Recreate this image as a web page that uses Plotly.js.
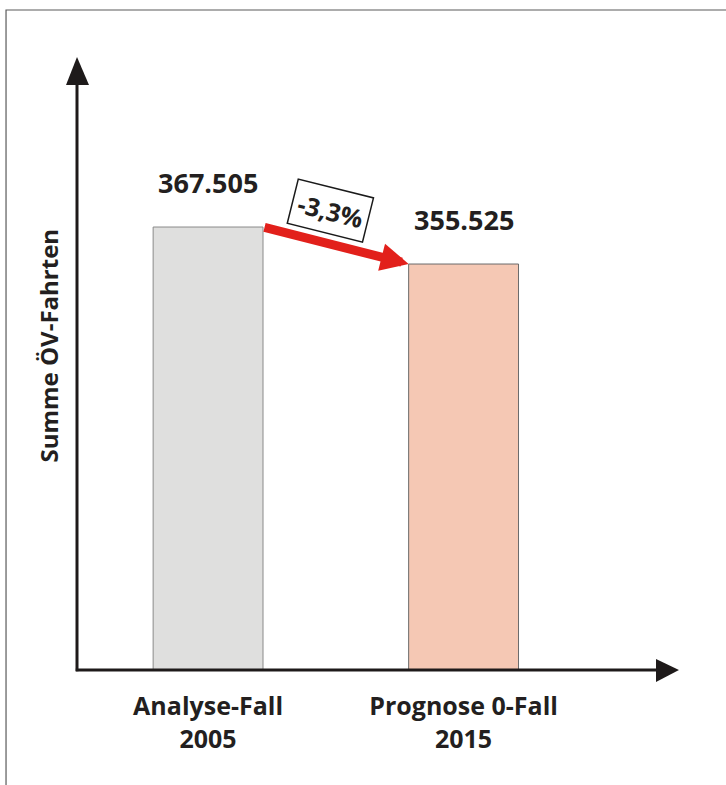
<!DOCTYPE html>
<html>
<head>
<meta charset="utf-8">
<script src="https://cdn.plot.ly/plotly-3.0.1.min.js"></script>
<style>html,body{margin:0;padding:0;background:#fff;}#chart{width:726px;height:785px;}</style>
</head>
<body>
<div id="chart"></div>
<script>
const categories = ["Analyse-Fall<br>2005", "Prognose 0-Fall<br>2015"];
const values = [367505, 355525];
const valueLabels = ["367.505", "355.525"];
const changeLabel = "-3,3%";
const yTitle = "Summe ÖV-Fahrten";

const FONT = "Open Sans, Noto Sans, sans-serif";
const TXT = "#231f20";
const barWidth = 0.43;

const trace = {
  type: "bar",
  x: [0, 1],
  y: values,
  width: barWidth,
  marker: {
    color: ["#dfdfde", "#f5c8b4"],
    line: {color: ["#8a8a8a", "#6a6a6a"], width: 1}
  },
  hoverinfo: "skip"
};

const annotations = values.map((v, i) => ({
  x: i, y: v, xref: "x", yref: "y",
  text: "<b>" + valueLabels[i] + "</b>",
  showarrow: false, yanchor: "bottom", yshift: 24,
  font: {family: FONT, size: 27, color: TXT}
}));

// red arrow from bar 1 top-right to bar 2 top-left
annotations.push({
  x: 1 - barWidth / 2, y: values[1], xref: "x", yref: "y",
  ax: barWidth / 2, ay: values[0], axref: "x", ayref: "y",
  showarrow: true, arrowhead: 2, arrowsize: 0.62, arrowwidth: 9,
  arrowcolor: "#e2201b", standoff: 0, startstandoff: 0, text: ""
});

// change label box
annotations.push({
  x: 0.4775, y: 373000, xref: "x", yref: "y",
  text: "<b>" + changeLabel + "</b>", showarrow: false,
  textangle: 14, bgcolor: "#ffffff", bordercolor: "#1a1a1a",
  borderwidth: 1.5, borderpad: 5,
  font: {family: FONT, size: 25, color: TXT}
});

// y axis title
annotations.push({
  x: -0.078, y: 0.530, xref: "paper", yref: "paper",
  text: "<b>" + yTitle + "</b>", showarrow: false, textangle: -90,
  font: {family: FONT, size: 24, color: TXT}
});

const AX = "#1e1a1a";
const shapes = [
  {type: "rect", xref: "paper", yref: "paper", x0: -0.1177, x1: 1.12, y0: -0.3, y1: 1.0767,
   line: {color: "#5a5a5a", width: 1.2}, fillcolor: "rgba(0,0,0,0)", layer: "below"},
  {type: "line", xref: "paper", yref: "paper", x0: 0, x1: 0, y0: -0.002, y1: 0.955,
   line: {color: AX, width: 3}},
  {type: "line", xref: "paper", yref: "paper", x0: -0.002, x1: 0.962, y0: 0, y1: 0,
   line: {color: AX, width: 3}},
  {type: "path", xref: "paper", yref: "paper",
   path: "M 0 1 L -0.0182 0.9543 L 0.0199 0.9543 Z", fillcolor: AX, line: {color: AX, width: 0}},
  {type: "path", xref: "paper", yref: "paper",
   path: "M 0.9983 0 L 0.9602 0.0179 L 0.9602 -0.0196 Z", fillcolor: AX, line: {color: AX, width: 0}}
];

const layout = {
  width: 726, height: 785,
  margin: {l: 77, r: 46, t: 57, b: 115},
  paper_bgcolor: "#ffffff", plot_bgcolor: "#ffffff",
  showlegend: false,
  xaxis: {
    range: [-0.513, 1.847], tickvals: [0, 1],
    ticktext: categories.map(c => "<b>" + c.replace("<br>", "</b><br><b>") + "</b>"),
    showgrid: false, zeroline: false, showline: false, ticks: "",
    ticklabelstandoff: 19,
    tickfont: {family: FONT, size: 25, color: TXT}, fixedrange: true
  },
  yaxis: {
    range: [224069, 422558], showgrid: false, zeroline: false, showline: false,
    showticklabels: false, ticks: "", fixedrange: true
  },
  annotations: annotations,
  shapes: shapes,
  font: {family: FONT, color: TXT}
};

Plotly.newPlot("chart", [trace], layout, {displayModeBar: false, staticPlot: true});
</script>
</body>
</html>
